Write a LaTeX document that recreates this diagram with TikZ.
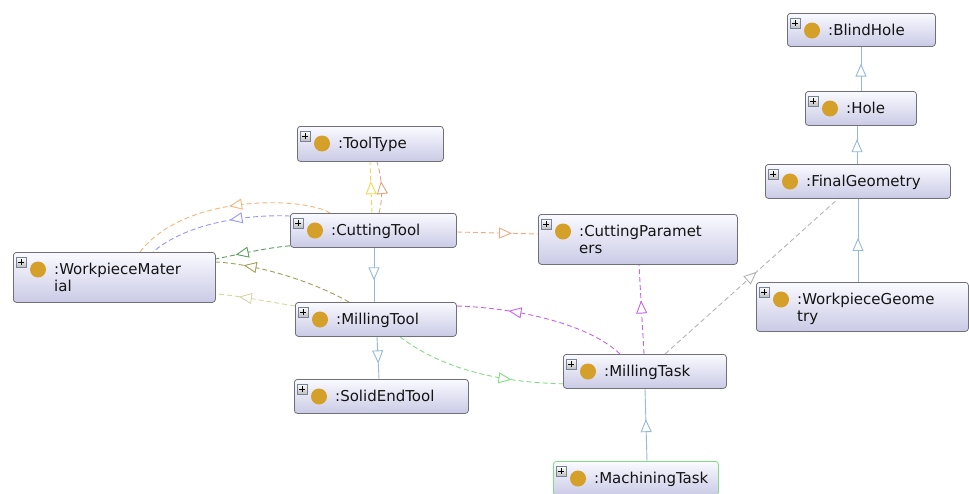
\documentclass[tikz,border=0pt]{standalone}
\usepackage{fontspec}
\newfontfamily\lblfont{DejaVu Sans}
\usetikzlibrary{arrows.meta,decorations.markings,calc}

\definecolor{boxtop}{RGB}{250,250,255}
\definecolor{boxbot}{RGB}{202,202,230}
\definecolor{boxline}{RGB}{112,112,122}
\definecolor{dotgold}{RGB}{212,160,42}
\definecolor{plusline}{RGB}{120,130,150}
\definecolor{isablue}{RGB}{150,185,215}
\definecolor{relorange}{RGB}{245,182,122}
\definecolor{relpurple}{RGB}{150,150,245}
\definecolor{reldkgreen}{RGB}{90,160,90}
\definecolor{relolive}{RGB}{160,160,90}
\definecolor{relkhaki}{RGB}{215,215,165}
\definecolor{relyellow}{RGB}{245,215,80}
\definecolor{reltan}{RGB}{225,165,130}
\definecolor{relsalmon}{RGB}{240,170,130}
\definecolor{relmagenta}{RGB}{200,100,235}
\definecolor{relgreen}{RGB}{130,220,130}
\definecolor{relgray}{RGB}{180,180,180}
\definecolor{taskgreen}{RGB}{130,220,130}
\definecolor{lbltext}{RGB}{20,20,20}

\pgfdeclarelayer{edges}
\pgfsetlayers{edges,main}

\tikzset{
  clsbox/.style={line width=0.8pt, rounded corners=3pt, top color=boxtop,
    bottom color=boxbot, anchor=north west, inner sep=0pt},
  clsdot/.style={circle, fill=dotgold, minimum size=16pt, inner sep=0pt},
  clsplus/.style={draw=plusline, line width=0.5pt, top color=white,
    bottom color=black!25, minimum size=10pt, inner sep=0pt,
    path picture={\draw[black, line width=1pt]
      ([xshift=-3pt]path picture bounding box.center) -- ([xshift=3pt]path picture bounding box.center)
      ([yshift=-3pt]path picture bounding box.center) -- ([yshift=3pt]path picture bounding box.center);}},
  clstext/.style={anchor=base west, inner sep=0pt, text=lbltext,
    font=\lblfont\fontsize{15}{17}\selectfont},
  isaedge/.style={draw, color=isablue, line width=0.9pt},
  reledge/.style={draw, color=#1, line width=0.9pt, dash pattern=on 5pt off 3pt},
  tipat/.style={postaction={decorate, decoration={markings,
    mark=at position #1 with {\arrow{Triangle[length=13pt, width=11pt, fill=white, line width=0.9pt]}}}}},
}

% class box: [border colour] name, left, top, right, bottom, label
% the label sits in a top-aligned tabular so its baseline is that of the first line
\newcommand\owlclass[7][boxline]{%
  \node[clsbox, draw=#1, minimum width={#5-#3}, minimum height={#6-#4}] (#2) at (#3,#4) {};
  \node[clsplus] (#2-p) at ($(#2.north west)+(8,10)$) {};
  \node[clsdot] (#2-d) at ($(#2.north west)+(25,17.5)$) {};
  \node[clstext] (#2-t) at ($(#2.north west)+(41,22.5)$)
    {\begin{tabular}[t]{@{}l@{}}#7\end{tabular}};
}

\begin{document}
\begin{tikzpicture}[x=1pt, y=-1pt]
\useasboundingbox (0,0) rectangle (969,493);

\owlclass{blind}{787}{13}{935}{46}{:BlindHole}
\owlclass{hole}{805}{91}{916}{125}{:Hole}
\owlclass{fg}{765}{164}{950}{198}{:FinalGeometry}
\owlclass{wg}{756}{282}{968}{331}{:WorkpieceGeome\\try}
\owlclass{tt}{297}{126}{443}{161}{:ToolType}
\owlclass{ct}{290}{213}{456}{247}{:CuttingTool}
\owlclass{cp}{538}{214}{737}{264}{:CuttingParamet\\ers}
\owlclass{wm}{13}{252}{215}{302}{:WorkpieceMater\\ial}
\owlclass{mt}{295}{302}{456}{336}{:MillingTool}
\owlclass{set}{294}{379}{468}{413}{:SolidEndTool}
\owlclass{mtask}{563}{354}{726}{388}{:MillingTask}
\owlclass[taskgreen]{macht}{553}{461}{718}{495}{:MachiningTask}

\begin{pgfonlayer}{edges}
% subclass links
\draw[isaedge, tipat=0.62] ($(hole.north west)+(56,0)$) -- ($(blind.south west)+(74,0)$);
\draw[isaedge, tipat=0.65] ($(fg.north west)+(92,0)$) -- ($(hole.south west)+(52,0)$);
\draw[isaedge, tipat=0.53] ($(wg.north west)+(102,0)$) -- ($(fg.south west)+(93,0)$);
\draw[isaedge, tipat=0.6] ($(ct.south west)+(84,0)$) -- ($(mt.north west)+(79,0)$);
\draw[isaedge, tipat=0.63] ($(mt.south west)+(82,0)$) -- ($(set.north west)+(85,0)$);
\draw[isaedge, tipat=0.58] ($(macht.north west)+(94,0)$) -- ($(mtask.south west)+(82,0)$);

% property links
\draw[reledge=relmagenta, tipat=0.6] ($(mtask.north west)+(81,0)$) -- ($(cp.south west)+(101,0)$);
\draw[reledge=relgray, tipat=0.53] ($(mtask.north west)+(102,0)$) -- ($(fg.south west)+(73,0)$);
\draw[reledge=relmagenta, tipat=0.7] ($(mtask.north west)+(57,0)$)
  .. controls (590,325) and (520,308) .. ($(mt.north east)+(0,4)$);
\draw[reledge=relgreen, tipat=0.7] ($(mt.south west)+(105,0)$)
  .. controls (430,360) and (480,382) .. ($(mtask.south west)+(0,-5)$);
\draw[reledge=relsalmon, tipat=0.68] ($(ct.north east)+(0,19)$) -- ($(cp.north west)+(0,20)$);
\draw[reledge=relyellow, tipat=0.62] ($(ct.north west)+(82,0)$) -- ($(tt.south west)+(73,0)$);
\draw[reledge=reltan, tipat=0.62] ($(ct.north west)+(89,0)$)
  .. controls (384,195) and (381,175) .. ($(tt.south west)+(80,0)$);
\draw[reledge=relorange, tipat=0.5] ($(ct.north west)+(40,0)$)
  .. controls (305,197) and (185,193) .. ($(wm.north west)+(127,0)$);
\draw[reledge=relpurple, tipat=0.42] ($(ct.north west)+(0,3)$)
  .. controls (245,214) and (185,224) .. ($(wm.north west)+(140,0)$);
\draw[reledge=reldkgreen, tipat=0.73] ($(ct.south west)+(0,-2)$)
  .. controls (265,248) and (240,254) .. ($(wm.north east)+(0,7)$);
\draw[reledge=relolive, tipat=0.8] ($(mt.north west)+(54,0)$)
  .. controls (310,280) and (255,264) .. ($(wm.north east)+(0,10)$);
\draw[reledge=relkhaki, tipat=0.71] ($(mt.north west)+(0,4)$)
  .. controls (270,302) and (240,296) .. ($(wm.south east)+(0,-9)$);
\end{pgfonlayer}
\end{tikzpicture}
\end{document}
